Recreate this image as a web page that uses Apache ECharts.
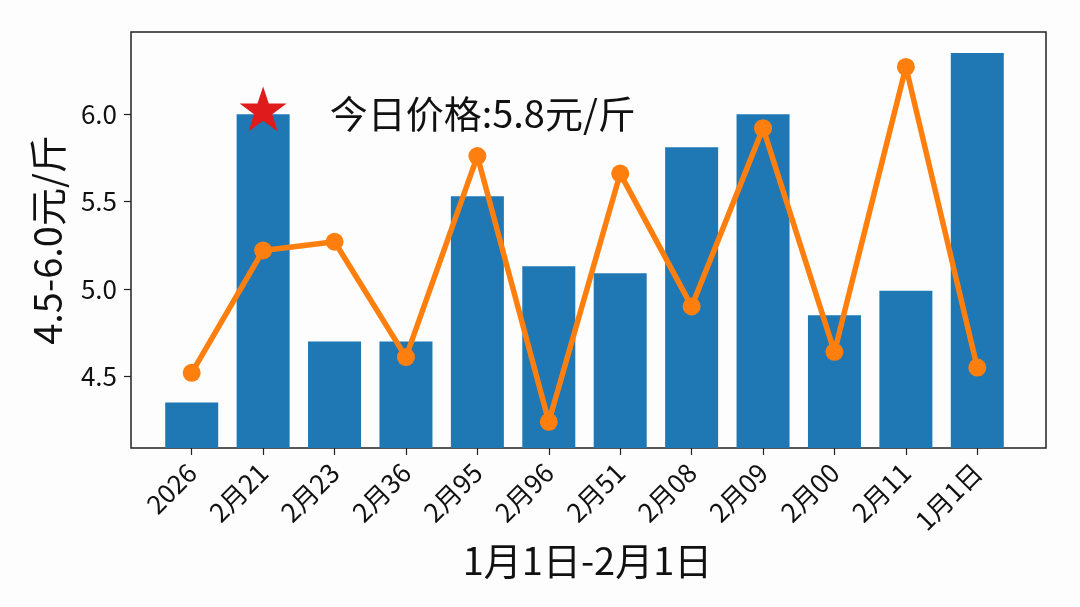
<!DOCTYPE html>
<html>
<head>
<meta charset="utf-8">
<script src="https://cdn.jsdelivr.net/npm/echarts@6/dist/echarts.min.js"></script>
<style>
  html, body { margin: 0; padding: 0; background: #fdfdfd; }
  #chart { width: 1080px; height: 607px; }
</style>
</head>
<body>
<div id="chart"></div>
<script>
// 日期（横轴类目）
var categories = ["2026", "2月21", "2月23", "2月36", "2月95", "2月96", "2月51", "2月08", "2月09", "2月00", "2月11", "1月1日"];
// 柱状数据
var barValues = [4.35, 6.0, 4.70, 4.70, 5.53, 5.13, 5.09, 5.81, 6.0, 4.85, 4.99, 6.35];
// 折线数据
var lineValues = [4.52, 5.22, 5.27, 4.61, 5.76, 4.24, 5.66, 4.90, 5.92, 4.64, 6.27, 4.55];
// 纵轴刻度
var yTicks = [4.5, 5.0, 5.5, 6.0];
// 今日价格标记
var todayPoint = [["2月21", 6.03]];
var todayText = "今日价格:5.8元/斤";

var yMin = 4.09;
var yMax = 6.47;
var font = "'Noto Sans CJK SC', 'Noto Sans', sans-serif";

var myChart = echarts.init(document.getElementById("chart"));
myChart.setOption({
  backgroundColor: "#fdfdfd",
  textStyle: { fontFamily: font },
  grid: [
    // 外框 + 纵轴
    { left: 131, right: 34, top: 32, bottom: 159, show: true, borderColor: "#222", borderWidth: 1.5, backgroundColor: "transparent" },
    // 柱子所在区域（左右留白）
    { left: 156, right: 67, top: 32, bottom: 159 }
  ],
  xAxis: [
    { gridIndex: 0, type: "value", show: false, min: 0, max: 1 },
    {
      gridIndex: 1,
      type: "category",
      data: categories,
      boundaryGap: true,
      name: "1月1日-2月1日",
      nameLocation: "middle",
      nameGap: 86,
      nameTextStyle: { fontSize: 38, color: "#111", fontFamily: font, padding: [0, 0, 0, 6] },
      axisLine: { show: false },
      axisTick: { show: true, alignWithLabel: true, length: 7, lineStyle: { color: "#222", width: 1.2 } },
      axisLabel: { rotate: 45, fontSize: 26, color: "#111", margin: 20, interval: 0, fontFamily: font }
    }
  ],
  yAxis: [
    {
      gridIndex: 0,
      type: "value",
      min: yMin,
      max: yMax,
      name: "4.5-6.0元/斤",
      nameLocation: "middle",
      nameGap: 64,
      nameTextStyle: { fontSize: 38, color: "#111", fontFamily: font },
      splitLine: { show: false },
      axisLine: { show: false },
      axisTick: { show: true, length: 7, customValues: yTicks, lineStyle: { color: "#222", width: 1.2 } },
      axisLabel: {
        fontSize: 26,
        color: "#111",
        margin: 14,
        customValues: yTicks,
        formatter: function (v) { return v.toFixed(1); }
      }
    },
    { gridIndex: 1, type: "value", min: yMin, max: yMax, show: false }
  ],
  series: [
    {
      name: "柱",
      type: "bar",
      xAxisIndex: 1,
      yAxisIndex: 1,
      data: barValues,
      barWidth: 53,
      itemStyle: { color: "#1f77b4" },
      z: 2
    },
    {
      name: "线",
      type: "line",
      xAxisIndex: 1,
      yAxisIndex: 1,
      data: lineValues,
      symbol: "circle",
      symbolSize: 18,
      showAllSymbol: true,
      lineStyle: { color: "#ff7f0e", width: 5.5 },
      itemStyle: { color: "#ff7f0e" },
      z: 3
    },
    {
      // 红色五角星 + 今日价格
      name: "今日",
      type: "scatter",
      xAxisIndex: 1,
      yAxisIndex: 1,
      data: todayPoint,
      symbol: "path://M50,0 L61.8,35.5 L99,35.5 L69,57.5 L80.5,93 L50,71 L19.5,93 L31,57.5 L1,35.5 L38.2,35.5 Z",
      symbolSize: [47, 45],
      itemStyle: { color: "#e01b1b", opacity: 1 },
      label: {
        show: true,
        position: "right",
        distance: 43,
        offset: [0, 5],
        formatter: todayText,
        fontSize: 38,
        color: "#111",
        fontFamily: font
      },
      z: 4
    }
  ]
});
</script>
</body>
</html>
